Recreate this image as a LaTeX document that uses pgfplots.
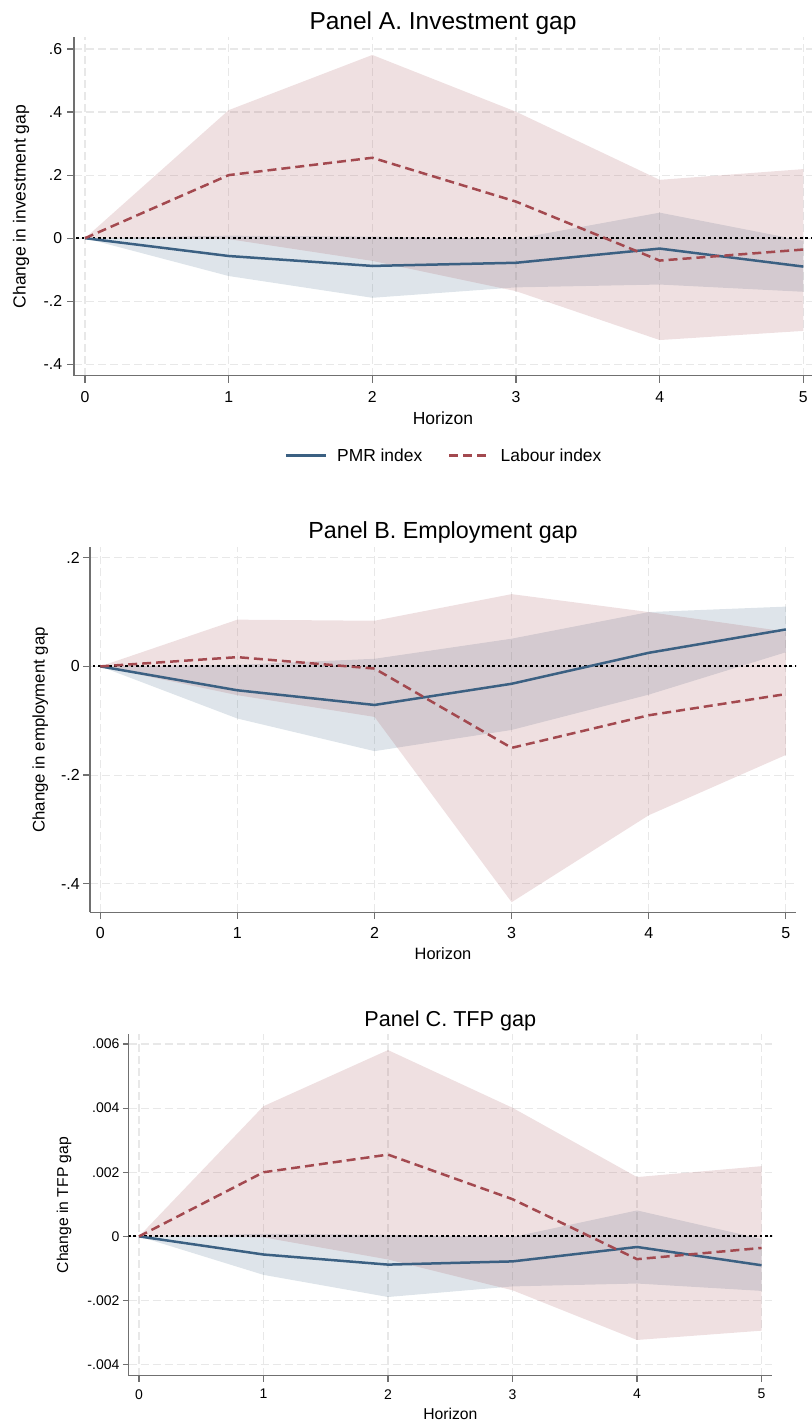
\documentclass[border=0pt]{standalone}
\usepackage{fontspec}
\setmainfont{Liberation Sans}
\usepackage{pgfplots}
\pgfplotsset{compat=1.18}
\definecolor{pmr}{RGB}{59,96,130}
\definecolor{lab}{RGB}{163,73,79}
\definecolor{axgray}{RGB}{112,112,112}
\definecolor{gridc}{RGB}{232,232,232}
\pgfplotsset{
  stataaxis/.style={
    scale only axis, anchor=south west,
    axis x line*=bottom, axis y line*=left,
    axis line style={draw=axgray, line width=1.2bp, -},
    tick align=outside,
    tick style={draw=axgray, line width=1.2bp},
    xtick={0,1,2,3,4,5},
    xticklabels={0,1,2,3,4,5},
    grid=major,
    major grid style={draw=gridc, line width=1.1bp, dash pattern=on 8bp off 4bp},
    scaled y ticks=false,
    xticklabel style={anchor=north, inner sep=0pt},
    yticklabel style={anchor=east, inner sep=0pt},
  },
  pmrband/.style={fill=pmr, fill opacity=0.17, draw=none, forget plot},
  labband/.style={fill=lab, fill opacity=0.17, draw=none, forget plot},
  zeroline/.style={black, line width=1.8bp, dash pattern=on 2.7bp off 2.7bp, forget plot},
  pmrline/.style={pmr, line width=2.5bp, mark=none},
  labline/.style={lab, line width=2.5bp, dash pattern=on 9bp off 5bp, mark=none},
}
\begin{document}
\begin{tikzpicture}
\path[use as bounding box] (0,0) rectangle (812bp,1423bp);

% ---------------- Panel A ----------------
\begin{axis}[stataaxis,
  at={(74bp,1047.3bp)}, width=738bp, height=338.4bp,
  xmin=-0.0766, xmax=5.0605, ymin=-0.436, ymax=0.637,
  ytick={-0.4,-0.2,0,0.2,0.4,0.6},
  yticklabels={-.4,-.2,0,.2,.4,.6},
  major tick length=7bp,
  ticklabel style={font=\fontsize{15.8bp}{18bp}\selectfont},
  xticklabel style={yshift=-8.3bp},
  yticklabel style={xshift=-4.7bp},
  xlabel={Horizon},
  xlabel style={at={(axis description cs:0.5,0)}, anchor=base, yshift=-48.8bp, font=\fontsize{17.5bp}{21bp}\selectfont},
  ylabel={Change in investment gap},
  ylabel style={at={([xshift=-48.5bp]axis description cs:0,0.5)}, rotate=0, anchor=base, font=\fontsize{17.5bp}{21bp}\selectfont},
  legend columns=2,
  legend style={at={(axis description cs:0.5,0)}, anchor=center, yshift=-80bp, draw=none, fill=none,
    font=\fontsize{17.4bp}{21bp}\selectfont,
    /tikz/every even column/.append style={column sep=26bp},
    nodes={inner sep=0pt}},
  legend image code/.code={\draw[#1] (0bp,0bp) -- (40bp,0bp);},
  legend cell align=left,
]
\addplot[pmrband] coordinates {(0,0) (1,0.008) (2,0.005) (3,-0.002) (4,0.081) (5,-0.008) (5,-0.170) (4,-0.147) (3,-0.156) (2,-0.189) (1,-0.120) (0,0)} -- cycle;
\addplot[labband] coordinates {(0,0) (1,0.406) (2,0.581) (3,0.401) (4,0.185) (5,0.219) (5,-0.294) (4,-0.323) (3,-0.168) (2,-0.072) (1,-0.003) (0,0)} -- cycle;
\addplot[zeroline] coordinates {(-1,0) (6,0)};
\addplot[pmrline] coordinates {(0,0) (1,-0.0565) (2,-0.088) (3,-0.078) (4,-0.033) (5,-0.090)};
\addlegendentry{\hspace{10bp}PMR index}
\addplot[labline] coordinates {(0,0) (1,0.200) (2,0.255) (3,0.116) (4,-0.071) (5,-0.036)};
\addlegendentry{\hspace{10bp}Labour index}
\end{axis}
\node[anchor=base, font=\fontsize{24.5bp}{29bp}\selectfont] at (443bp,1393.7bp) {Panel A. Investment gap};

% ---------------- Panel B ----------------
\begin{axis}[stataaxis,
  at={(90bp,510.7bp)}, width=706bp, height=365bp,
  xmin=-0.0751, xmax=5.074, ymin=-0.4526, ymax=0.2192,
  ytick={-0.4,-0.2,0,0.2},
  yticklabels={-.4,-.2,0,.2},
  major tick length=6.7bp,
  ticklabel style={font=\fontsize{16bp}{19bp}\selectfont},
  xticklabel style={yshift=-8.3bp},
  yticklabel style={xshift=-3.3bp},
  xlabel={Horizon},
  xlabel style={at={(axis description cs:0.5,0)}, anchor=base, yshift=-47.7bp, font=\fontsize{16.4bp}{20bp}\selectfont},
  ylabel={Change in employment gap},
  ylabel style={at={([xshift=-45.5bp]axis description cs:0,0.5)}, rotate=0, anchor=base, font=\fontsize{16.8bp}{20bp}\selectfont},
]
\addplot[pmrband] coordinates {(0,0) (1,0.003) (2,0.014) (3,0.051) (4,0.100) (5,0.110) (5,0.026) (4,-0.052) (3,-0.117) (2,-0.156) (1,-0.096) (0,0)} -- cycle;
\addplot[labband] coordinates {(0,0) (1,0.086) (2,0.084) (3,0.133) (4,0.100) (5,0.064) (5,-0.163) (4,-0.274) (3,-0.434) (2,-0.093) (1,-0.053) (0,0)} -- cycle;
\addplot[zeroline] coordinates {(-1,0) (6,0)};
\addplot[pmrline] coordinates {(0,0) (1,-0.044) (2,-0.071) (3,-0.032) (4,0.025) (5,0.068)};
\addplot[labline] coordinates {(0,0) (1,0.017) (2,-0.004) (3,-0.150) (4,-0.090) (5,-0.051)};
\end{axis}
\node[anchor=base, font=\fontsize{23.3bp}{28bp}\selectfont] at (443bp,884.6bp) {Panel B. Employment gap};

% ---------------- Panel C ----------------
\begin{axis}[stataaxis,
  at={(128.7bp,47.3bp)}, width=643.3bp, height=341.4bp,
  xmin=-0.0827, xmax=5.084, ymin=-0.004344, ymax=0.006302,
  ytick={-0.004,-0.002,0,0.002,0.004,0.006},
  yticklabels={-.004,-.002,0,.002,.004,.006},
  major tick length=5.8bp,
  ticklabel style={font=\fontsize{14bp}{17bp}\selectfont},
  xticklabel style={yshift=-7.6bp},
  yticklabel style={xshift=-3.3bp},
  xlabel={Horizon},
  xlabel style={at={(axis description cs:0.5,0)}, anchor=base, yshift=-43.8bp, font=\fontsize{15.7bp}{19bp}\selectfont},
  ylabel={Change in TFP gap},
  ylabel style={at={([xshift=-60.7bp]axis description cs:0,0.5)}, rotate=0, anchor=base, font=\fontsize{15.7bp}{19bp}\selectfont},
]
\addplot[pmrband] coordinates {(0,0) (1,0.00008) (2,0.00005) (3,-0.00002) (4,0.00081) (5,-0.00008) (5,-0.00170) (4,-0.00147) (3,-0.00156) (2,-0.00189) (1,-0.00120) (0,0)} -- cycle;
\addplot[labband] coordinates {(0,0) (1,0.00406) (2,0.00581) (3,0.00401) (4,0.00185) (5,0.00219) (5,-0.00294) (4,-0.00323) (3,-0.00168) (2,-0.00072) (1,-0.00003) (0,0)} -- cycle;
\addplot[zeroline] coordinates {(-1,0) (6,0)};
\addplot[pmrline] coordinates {(0,0) (1,-0.000565) (2,-0.00088) (3,-0.00078) (4,-0.00033) (5,-0.00090)};
\addplot[labline] coordinates {(0,0) (1,0.00200) (2,0.00255) (3,0.00116) (4,-0.00071) (5,-0.00036)};
\end{axis}
\node[anchor=base, font=\fontsize{21.6bp}{26bp}\selectfont] at (450.3bp,396.2bp) {Panel C. TFP gap};
\end{tikzpicture}
\end{document}
